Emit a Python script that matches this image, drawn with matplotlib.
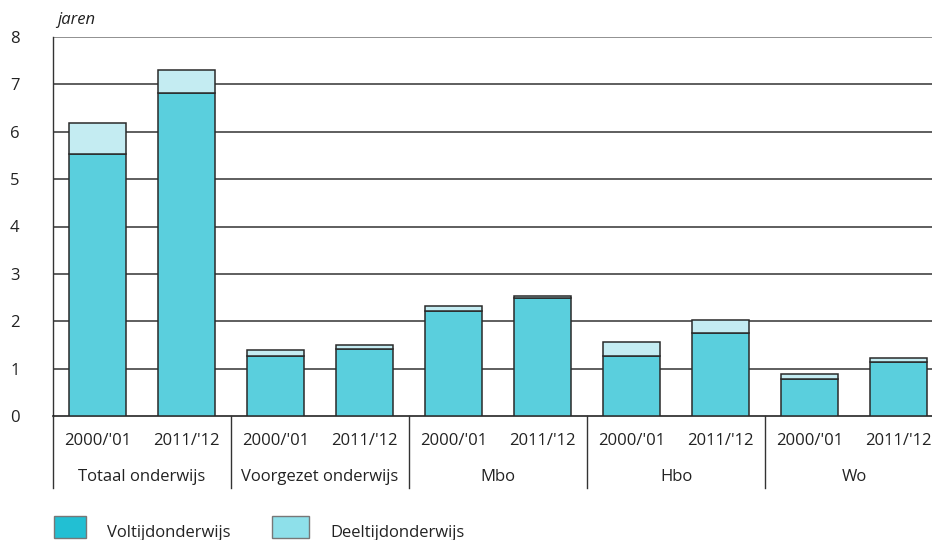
import matplotlib
matplotlib.use("Agg")
import matplotlib.pyplot as plt
from matplotlib.patches import Rectangle
from matplotlib.transforms import blended_transform_factory

plt.rcParams['font.family'] = ['Open Sans', 'DejaVu Sans']

groups = ["Totaal onderwijs", "Voorgezet onderwijs", "Mbo", "Hbo", "Wo"]
years = ["2000/'01", "2011/'12"]
voltijd = [5.53, 6.81, 1.26, 1.42, 2.22, 2.49, 1.27, 1.76, 0.78, 1.14]
totaal = [6.18, 7.30, 1.39, 1.50, 2.32, 2.53, 1.56, 2.03, 0.89, 1.22]
deeltijd = [t - v for t, v in zip(totaal, voltijd)]
yticks = [0, 1, 2, 3, 4, 5, 6, 7, 8]

W, H = 932, 540
fig = plt.figure(figsize=(W / 100, H / 100), dpi=100)
ax_l, ax_r, ax_t, ax_b = 53, 943, 37, 416
ax = fig.add_axes([ax_l / W, (H - ax_b) / H, (ax_r - ax_l) / W, (ax_b - ax_t) / H])

x = list(range(len(voltijd)))
bw = 0.64
ax.bar(x, voltijd, width=bw, color='#5ACFDD', edgecolor='#2a2a2a', linewidth=1.1, zorder=3)
ax.bar(x, deeltijd, bottom=voltijd, width=bw, color='#C4ECF2', edgecolor='#2a2a2a', linewidth=1.1, zorder=3)

ax.set_xlim(-0.5, len(x) - 0.5)
ax.set_ylim(0, 8)
for y in yticks[1:-1]:
    ax.axhline(y, color='#333333', linewidth=1.1, zorder=1)
ax.axhline(8, color='#888888', linewidth=1.3, zorder=1)

for s in ['top', 'right']:
    ax.spines[s].set_visible(False)
ax.spines['left'].set_color('#333333')
ax.spines['bottom'].set_color('#111111')
ax.spines['left'].set_linewidth(1.0)
ax.spines['bottom'].set_linewidth(1.1)

ax.set_yticks(yticks)
ax.set_yticklabels([str(v) for v in yticks], fontsize=12, color='#222222')
ax.tick_params(axis='y', length=0, pad=24)
ax.set_xticks([])

trans = blended_transform_factory(ax.transData, ax.transAxes)
h_ax = ax_b - ax_t
def ay(py):
    return (ax_b - py) / h_ax

for i in x:
    ax.text(i, ay(441), years[i % 2], transform=trans, ha='center', va='center',
            fontsize=12, color='#222222')
for g, name in enumerate(groups):
    ax.text(2 * g + 0.5, ay(477), name, transform=trans, ha='center', va='center',
            fontsize=12, color='#222222')
for g in range(len(groups)):
    xs = 2 * g - 0.5
    ax.plot([xs, xs], [0, ay(488)], transform=trans, color='#333333',
            linewidth=1.0, clip_on=False, zorder=4)

fig.text(57 / W, 1 - 20 / H, 'jaren', fontsize=12, style='italic', ha='left', va='center',
         color='#222222')

# legend
for (x0, x1, col, lab, tx) in [(54, 86, '#22BFD3', 'Voltijdonderwijs', 107),
                                (272, 309, '#8EE0EA', 'Deeltijdonderwijs', 330)]:
    fig.patches.append(Rectangle((x0 / W, 1 - 538 / H), (x1 - x0) / W, 22 / H,
                                 transform=fig.transFigure, facecolor=col,
                                 edgecolor='#777777', linewidth=1.0))
    fig.text(tx / W, 1 - 533 / H, lab, fontsize=12, ha='left', va='center', color='#222222')

fig.savefig('out.png', dpi=100)
